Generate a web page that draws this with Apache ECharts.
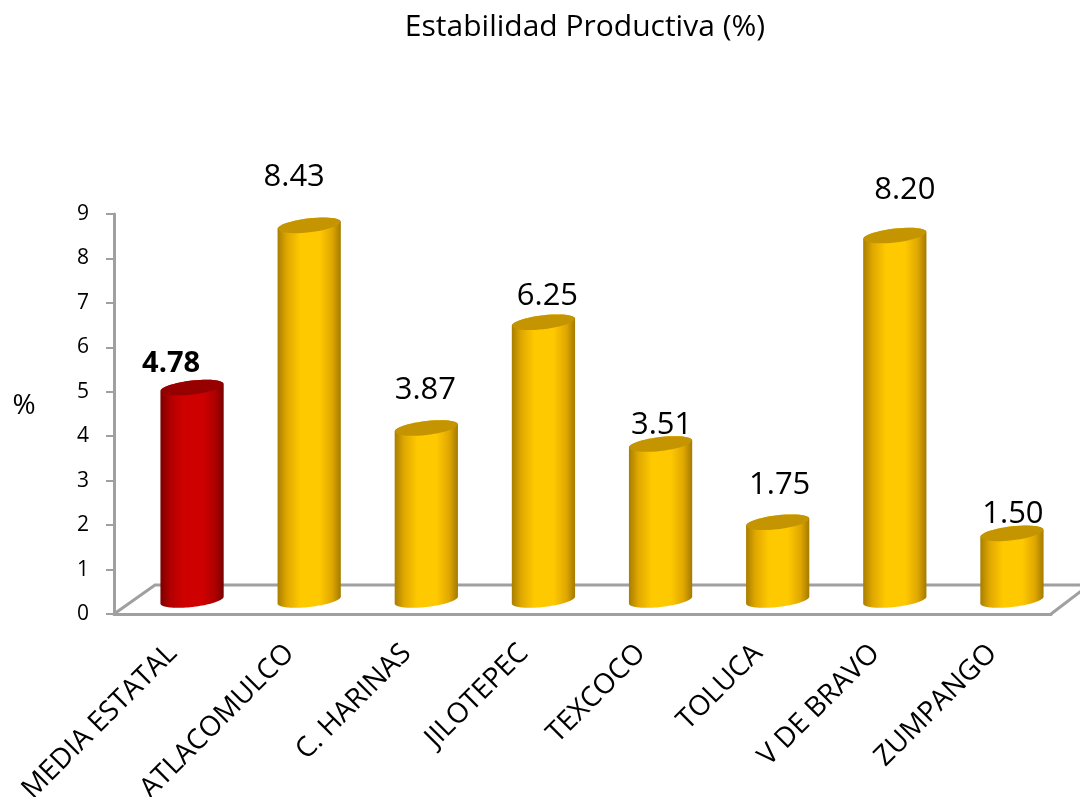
<!DOCTYPE html>
<html><head><meta charset="utf-8">
<style>html,body{margin:0;background:#fff}#c{width:1080px;height:797px}</style>
<script src="https://cdn.jsdelivr.net/npm/echarts@6/dist/echarts.min.js"></script>
</head><body><div id="c"></div>
<script>
const titleText = 'Estabilidad Productiva (%)';
const yName = '%';
const categories = ['MEDIA ESTATAL','ATLACOMULCO','C. HARINAS','JILOTEPEC','TEXCOCO','TOLUCA','V DE BRAVO','ZUMPANGO'];
const values = [4.78,8.43,3.87,6.25,3.51,1.75,8.20,1.50];
const yTicks = [0,1,2,3,4,5,6,7,8,9];
const labelShiftX = [-21,-15,-1,4,1,2,10,1];
const labelShiftY = [-24,-48,-38,-26,-19,-37,-45,-19];

const FONT = '"Open Sans","Noto Sans",sans-serif';
const GRAY = '#a0a0a0';
const depthX = 19.5, depthY = -14;
const LG = echarts.graphic.LinearGradient;
const grad = (a,b,c,d) => new LG(0,0,1,0,[
  {offset:0,color:a},{offset:0.15,color:b},{offset:0.36,color:c},{offset:0.66,color:c},{offset:0.86,color:b},{offset:1,color:d}]);
const gold = grad('#a87e00','#e0a800','#ffc900','#a47a00');
const red = grad('#7c0000','#b00000','#cf0000','#780000');

function ellipsePts(cx,cy,rx,from,to){
  const pts=[];
  for(let k=0;k<=48;k++){
    const t=from+(to-from)*k/48;
    pts.push([cx+rx*Math.cos(t), cy+7*Math.sin(t)-3.5*Math.cos(t)]);
  }
  return pts;
}

const chart = echarts.init(document.getElementById('c'),null,{renderer:'canvas'});
chart.setOption({
  animation:false,
  backgroundColor:'#fff',
  title:{text:titleText,left:580,top:7,textAlign:'center',
    textStyle:{fontFamily:FONT,fontWeight:'normal',fontSize:30,color:'#000'}},
  graphic:[{type:'text',x:24,y:406,style:{text:yName,fontFamily:FONT,fontSize:28,fill:'#000',align:'center',verticalAlign:'middle'}}],
  grid:{left:114,top:214,width:937,height:400,outerBoundsMode:'none'},
  xAxis:{type:'category',data:categories,
    axisLine:{lineStyle:{color:GRAY,width:3}},axisTick:{show:false},
    axisLabel:{rotate:45,interval:0,margin:35,fontFamily:FONT,fontSize:28,color:'#000'}},
  yAxis:{type:'value',min:0,max:9,interval:1,
    splitLine:{show:false},
    axisLine:{show:true,lineStyle:{color:GRAY,width:3}},
    axisTick:{show:true,length:8,lineStyle:{color:GRAY,width:2}},
    axisLabel:{margin:25,padding:[3,0,0,0],fontFamily:FONT,fontSize:21,color:'#000',
      formatter:v=>yTicks.includes(v)?String(v):''}},
  series:[
  {type:'custom',z:1,silent:true,data:[[0,0]],
   renderItem(params,api){
     const p=api.coord([0,0]), s=api.size([1,0])[0];
     const x0=p[0]-s/2, y0=p[1], x1=x0+s*8;
     return {type:'group',children:[
       {type:'polyline',shape:{points:[[x0,y0],[x0+41,y0-29],[x1+30,y0-29]]},style:{fill:'none',stroke:GRAY,lineWidth:3}},
       {type:'line',shape:{x1:x1,y1:y0,x2:x1+30,y2:y0-23},style:{stroke:GRAY,lineWidth:3}}
     ]};
   }},
  {type:'custom',z:2,silent:true,clip:false,
   encode:{x:0,y:1},
   data:values.map((v,i)=>[i,v]),
   renderItem(params,api){
     const i=api.value(0), v=api.value(1);
     const top=api.coord([i,v]), base=api.coord([i,0]);
     const rx=api.size([1,0])[0]*0.27;
     const cx=top[0]+depthX, ty=top[1]+depthY, by=base[1]+depthY;
     const isRed=i===0;
     const body=[...ellipsePts(cx,ty,rx,0,-Math.PI),...ellipsePts(cx,by,rx,Math.PI,0)];
     return {type:'group',children:[
       {type:'polygon',shape:{points:body},style:{fill:isRed?red:gold}},
       {type:'polygon',shape:{points:ellipsePts(cx,ty,rx*0.98,0,Math.PI*2)},style:{fill:isRed?'#960000':'#c49500'}},
       {type:'text',x:cx+labelShiftX[i],y:ty+labelShiftY[i],
        style:{text:v.toFixed(2),fontFamily:FONT,fontSize:isRed?29:31,fontWeight:isRed?'bold':'normal',
               fill:'#000',align:'center',verticalAlign:'middle'}}
     ]};
   }}
  ]
});
</script></body></html>
